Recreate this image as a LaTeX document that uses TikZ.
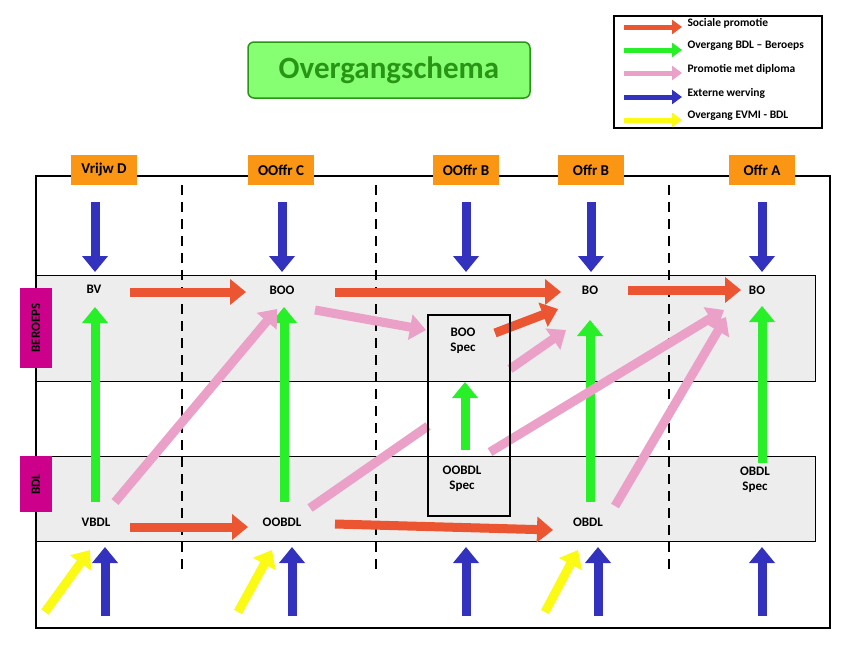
\documentclass[tikz,border=0pt]{standalone}
\usepackage{fontspec}
\setmainfont{Carlito}
\usetikzlibrary{arrows.meta,positioning}
\definecolor{redA}{RGB}{235,85,50}
\definecolor{greenA}{RGB}{40,240,40}
\definecolor{pinkA}{RGB}{235,160,200}
\definecolor{blueA}{RGB}{50,50,190}
\definecolor{yellowA}{RGB}{250,250,20}
\definecolor{orangeA}{RGB}{250,150,20}
\definecolor{magA}{RGB}{205,0,140}
\definecolor{titleG}{RGB}{40,150,20}
\tikzset{
  fat/.style={line width=9pt,-{Triangle[length=16pt,width=25pt]}},
  thin/.style={line width=5pt,-{Triangle[length=10pt,width=14pt]}},
  hdr/.style={fill=orangeA,minimum width=66pt,minimum height=30pt,font=\bfseries\fontsize{15}{16}\selectfont},
  lbl/.style={font=\bfseries\fontsize{13}{15}\selectfont,align=center},
  side/.style={fill=magA,text=black,font=\bfseries\fontsize{13}{15}\selectfont,rotate=90}
}
\begin{document}
\begin{tikzpicture}[x=1pt,y=-1pt]
\useasboundingbox (0,0) rectangle (850,645);
% title
\node[draw=titleG,line width=1.5pt,fill=green!50!white!90!lime,rounded corners=6pt,
  minimum width=282pt,minimum height=56pt,text=titleG,font=\bfseries\fontsize{31}{32}\selectfont] (title) at (389,70) {Overgangschema};
% legend
\draw[line width=2.5pt] (614,16) rectangle (822,128);
\foreach \y/\c/\t in {27/redA/Sociale promotie,50/greenA/Overgang BDL -- Beroeps,
  73/pinkA/Promotie met diploma,97/blueA/Externe werving,120/yellowA/Overgang EVMI - BDL}{
  \draw[thin,\c] (624,\y) -- (682,\y);
  \node[lbl,anchor=west,font=\bfseries\fontsize{11.5}{13}\selectfont] at (684,\y-4) {\t};
}
% frame and bands
\fill[black!7] (36,275) rectangle (815,381);
\fill[black!7] (36,456) rectangle (815,541);
\draw[thick] (36,275) rectangle (815,381);
\draw[thick] (36,456) rectangle (815,541);
\draw[line width=2pt] (36,176) rectangle (830,628);
\foreach \x in {182,376,669}
  \draw[line width=2.5pt,dash pattern=on 10pt off 7pt] (\x,185) -- (\x,570);
% headers
\foreach \x/\t/\n in {104/Vrijw D/hVD,281/OOffr C/hOC,466/OOffr B/hOB,591/Offr B/hB,762/Offr A/hA}
  \node[hdr] (\n) at (\x,170) {\t};
\node[side,minimum width=80pt,minimum height=32pt] (sBer) at (36,328) {BEROEPS};
\node[side,minimum width=56pt,minimum height=32pt] (sBdl) at (36,484) {BDL};
% posts
\node[lbl] (bv) at (94,289) {BV};
\node[lbl] (boo) at (282,290) {BOO};
\node[lbl] (boB) at (590,290) {BO};
\node[lbl] (boA) at (757,290) {BO};
\node[lbl] (boos) at (463,341) {BOO\\Spec};
\node[lbl] (oobs) at (462,479) {OOBDL\\Spec};
\node[lbl] (obs) at (755,480) {OBDL\\Spec};
\node[lbl] (vbdl) at (96,522) {VBDL};
\node[lbl] (oobdl) at (282,522) {OOBDL};
\node[lbl] (obdl) at (588,522) {OBDL};
% external recruitment
\foreach \x in {95,282,466,591,762}
  \draw[fat,blueA] (\x,202) -- (\x,272);
\foreach \x in {105,292,466,598,762}
  \draw[fat,blueA] (\x,616) -- (\x,547);
\foreach \a/\b in {45/90,238/272,545/578}
  \draw[fat,yellowA] (\a,612) -- (\b,550);
% transitions
\draw[fat,greenA] (95,502) -- (95,307);
\draw[fat,greenA] (284,502) -- (284,307);
\draw[fat,greenA] (465,450) -- (465,382);
\draw[fat,greenA] (590,502) -- (590,320);
\draw[fat,greenA] (762,463) -- (762,306);
\draw[fat,pinkA] (115,502) -- (277,309);
\draw[fat,pinkA] (315,310) -- (426,330);
\draw[line width=9pt,pinkA] (310,508) -- (428,426);
\draw[fat,pinkA] (510,369) -- (566,330);
\draw[fat,pinkA] (490,452) -- (724,310);
\draw[fat,pinkA] (615,506) -- (726,317);
\draw[fat,redA] (130,292) -- (246,292);
\draw[fat,redA] (335,292) -- (561,292);
\draw[fat,redA] (628,290) -- (741,290);
\draw[fat,redA] (495,333) -- (558,309);
\draw[fat,redA] (130,527) -- (248,527);
\draw[fat,redA] (335,524) -- (553,530);
\draw[line width=1.5pt] (428,315) rectangle (510,516);
\end{tikzpicture}
\end{document}
